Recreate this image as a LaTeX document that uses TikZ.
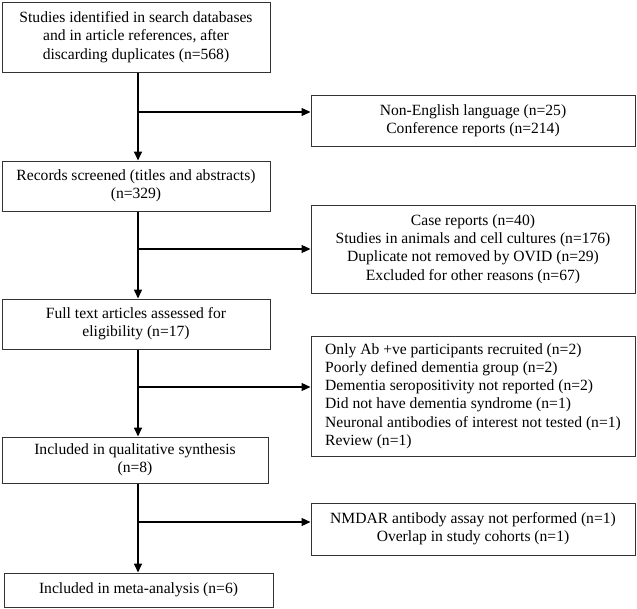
\documentclass[tikz,border=0pt]{standalone}
\usepackage{fontspec}
\setmainfont{Liberation Serif}
\usetikzlibrary{arrows.meta}
\begin{document}
\begin{tikzpicture}[x=1pt,y=-1pt,
  box/.style={draw=black!80, line width=1pt, align=center, inner sep=0pt,
    font=\fontsize{15.6}{18.3}\selectfont},
  lbox/.style={box, align=left},
  vline/.style={line width=1.6pt},
  varr/.style={line width=1.6pt, -{Triangle[length=9pt,width=8pt]}},
  harr/.style={line width=1.1pt, -{Triangle[length=9pt,width=8pt]}}]
\useasboundingbox (0,0) rectangle (637,608);
\coordinate (s) at (138,0);
% left column
\node[box, minimum width=268pt, minimum height=70pt] (b1) at (136,37)
  {Studies identified in search databases\\and in article references, after\\discarding duplicates (n=568)};
\node[box, minimum width=268pt, minimum height=50pt] (b3) at (136,186)
  {Records screened (titles and abstracts)\\(n=329)};
\node[box, minimum width=268pt, minimum height=50pt] (b5) at (136,324)
  {Full text articles assessed for\\eligibility (n=17)};
\node[box, minimum width=266pt, minimum height=46pt] (b7) at (135,460)
  {Included in qualitative synthesis\\(n=8)};
\node[box, minimum width=269pt, minimum height=34pt] (b9) at (138.5,590)
  {Included in meta-analysis (n=6)};
% right column
\node[box, minimum width=324pt, minimum height=51pt] (b2) at (473,120.5)
  {Non-English language (n=25)\\Conference reports (n=214)};
\node[box, minimum width=324pt, minimum height=88pt] (b4) at (473,249)
  {Case reports (n=40)\\Studies in animals and cell cultures (n=176)\\Duplicate not removed by OVID (n=29)\\Excluded for other reasons (n=67)};
\node[lbox, minimum width=324pt, minimum height=120pt] (b6) at (473,396)
  {Only Ab +ve participants recruited (n=2)\\Poorly defined dementia group (n=2)\\Dementia seropositivity not reported (n=2)\\Did not have dementia syndrome (n=1)\\Neuronal antibodies of interest not tested (n=1)\\Review (n=1)};
\node[box, minimum width=324pt, minimum height=52pt] (b8) at (473,529)
  {NMDAR antibody assay not performed (n=1)\\Overlap in study cohorts (n=1)};
% junctions
\coordinate (j1) at (138,112);
\coordinate (j2) at (138,249);
\coordinate (j3) at (138,387);
\coordinate (j4) at (138,522);
% vertical arrows
\draw[varr] (b1.south -| s) -- (b3.north -| s);
\draw[varr] (b3.south -| s) -- (b5.north -| s);
\draw[varr] (b5.south -| s) -- (b7.north -| s);
\draw[varr] (b7.south -| s) -- (b9.north -| s);
% horizontal arrows
\draw[harr] (j1) -- (j1 -| b2.west);
\draw[harr] (j2) -- (j2 -| b4.west);
\draw[harr] (j3) -- (j3 -| b6.west);
\draw[harr] (j4) -- (j4 -| b8.west);
\end{tikzpicture}
\end{document}
